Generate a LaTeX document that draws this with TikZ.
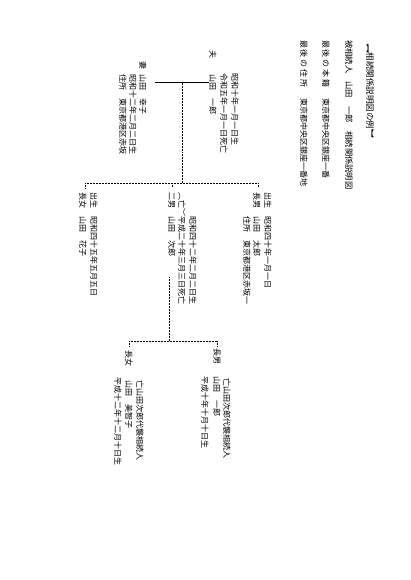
\documentclass[tikz,border=0pt]{standalone}
\usepackage{fontspec}
\usepackage{tikz}
\usetikzlibrary{positioning}
\newfontfamily\tatefont[Vertical=RotatedGlyphs,RawFeature=+vert]{Noto Sans CJK JP}

\tikzset{
  tate/.style={rotate=-90,anchor=west,inner sep=0pt,
    font=\tatefont\fontsize{8pt}{8pt}\selectfont},
  midashi/.style={tate,font=\tatefont\fontsize{8.5pt}{8.5pt}\selectfont},
  keizu/.style={line width=0.5pt,densely dotted},
  kon/.style={line width=0.35pt,double,double distance=0.9pt}
}
\newcommand{\hiraki}[2]{\makebox[#1][s]{#2}}

\begin{document}
\begin{tikzpicture}[x=1pt,y=-1pt]
  \useasboundingbox (0,0) rectangle (410,580);
  % header
  \node[midashi] (title) at (370,44) {【相続関係説明図の例】};
  \node[midashi,font=\tatefont\fontsize{8.3pt}{8.3pt}\selectfont] (head) at (349,40)
    {被相続人　山田　一郎　相続関係説明図};
  \node[tate] (honseki) at (326,40)
    {\hiraki{47pt}{最\hfill 後\hfill の\hfill 本\hfill 籍}\hspace{11pt}東京都中央区銀座一番};
  \node[tate] (jusho) at (304,40)
    {\hiraki{47pt}{最\hfill 後\hfill の\hfill 住\hfill 所}\hspace{11pt}東京都中央区銀座一番地};

  % husband and wife
  \node[tate] (otto) at (213,50) {夫};
  \node[tate] (ichiro) at (213,74) {山田　一郎};
  \node[tate] (ichiroB) at (235,73) {昭和十年一月一日生};
  \node[tate] (ichiroD) at (224,73) {令和五年一月一日死亡};
  \node[tate] (tsuma) at (143,61) {妻};
  \node[tate] (sachiko) at (143,74) {山田　幸子};
  \node[tate] (sachikoB) at (133,74) {昭和十二年二月二日生};
  \node[tate] (sachikoJ) at (123,74) {住所　東京都港区赤坂};

  % children
  \node[tate] (taroB) at (268,192) {出生　昭和四十年一月一日};
  \node[tate] (taro) at (257,192) {長男　山田　太郎};
  \node[tate] (taroJ) at (247,216) {住所　東京都港区赤坂一};
  \node[tate] (jiroB) at (193,216) {昭和四十二年二月二日生};
  \node[tate] (jiroD) at (182,192) {（亡）平成二十年三月三日死亡};
  \node[tate] (jiro) at (172,192) {二男　山田　次郎};
  \node[tate] (hanakoB) at (94,192) {出生　昭和四十五年五月五日};
  \node[tate] (hanako) at (83,192) {長女　山田　花子};

  % grandchildren
  \node[tate] (magoA) at (217,348) {長男};
  \node[tate] (magoAn) at (217,376) {山田　一郎};
  \node[tate] (magoAb) at (205,376) {平成十年十月十日生};
  \node[tate] (magoAd) at (227,378) {亡山田次郎代襲相続人};
  \node[tate] (magoB) at (129,350) {長女};
  \node[tate] (magoBn) at (129,380) {山田　美智子};
  \node[tate] (magoBb) at (118,377) {平成十二年十二月十日生};
  \node[tate] (magoBd) at (140,380) {亡山田次郎代襲相続人};

  % lines
  \coordinate (kL) at (155,83);
  \coordinate (kR) at (209,83);
  \coordinate (kM) at (182,83);
  \coordinate (ko) at (182,183);
  \coordinate (koL) at (85,183);
  \coordinate (koR) at (258,183);
  \coordinate (koM) at (172,183);
  \draw[kon] (kL) -- (kR);
  \draw[keizu] (kM) -- (ko);
  \draw[keizu] (koL) -- (koR);
  \draw[keizu] (koL) -- ++(0,5);
  \draw[keizu] (koM) -- ++(0,4);
  \draw[keizu] (koR) -- ++(0,4);
  \coordinate (daishu) at (169,277);
  \coordinate (mago) at (169,341);
  \coordinate (magoL) at (129,341);
  \coordinate (magoR) at (217,341);
  \draw[keizu] (daishu) -- (mago);
  \draw[keizu] (magoL) -- (magoR);
  \draw[keizu] (magoL) -- ++(0,6);
  \draw[keizu] (magoR) -- ++(0,5);
\end{tikzpicture}
\end{document}
